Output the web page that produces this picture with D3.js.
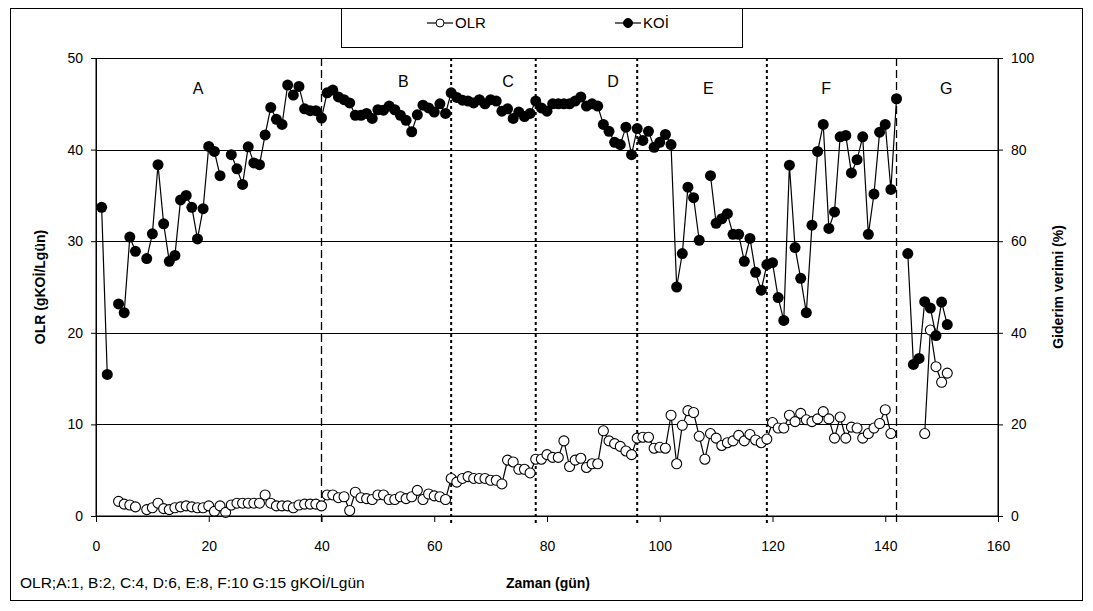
<!DOCTYPE html>
<html lang="tr">
<head>
<meta charset="UTF-8">
<title>OLR ve KOİ giderimi</title>
<style>
    body { margin: 0; background: #fff; }
    svg { display: block; font-family: Arial, "Liberation Sans", sans-serif; }
    .grid line { stroke: #000; stroke-width: 1; }
    .axis path, .axis line { stroke: #000; }
    .axis text { font-size: 14px; fill: #000; }
</style>
</head>
<body>
<div id="chart"></div>
<script src="https://d3js.org/d3.v7.min.js"></script>
<script>
// OLR (gKOİ/Lgün), one value per day; null = no measurement
const olrDays = d3.range(4, 152);
const olr = [
    1.6, 1.3, 1.2, 1.0, null, 0.7, 0.9, 1.4, 0.8, 0.7, 0.9, 1.0, 1.1, 1.0, 0.9, 0.9, 1.1,   // 4-20
    0.5, 1.1, 0.4, 1.2, 1.4, 1.4, 1.4, 1.4, 1.4, 2.3,                                       // 21-30
    1.4, 1.1, 1.1, 1.1, 0.9, 1.2, 1.3, 1.3, 1.3, 1.1,                                       // 31-40
    2.3, 2.3, 2.0, 2.1, 0.6, 2.6, 2.0, 1.9, 1.8, 2.3,                                       // 41-50
    2.3, 1.8, 1.8, 2.1, 1.9, 2.1, 2.8, 1.8, 2.4, 2.2,                                       // 51-60
    2.1, 1.8, 4.1, 3.7, 4.1, 4.3, 4.1, 4.1, 4.1, 3.9,                                       // 61-70
    3.9, 3.5, 6.1, 5.9, 5.1, 5.1, 4.7, 6.2, 6.2, 6.7,                                       // 71-80
    6.4, 6.4, 8.2, 5.4, 6.1, 6.3, 5.3, 5.7, 5.7, 9.3,                                       // 81-90
    8.2, 7.9, 7.6, 7.1, 6.7, 8.5, 8.6, 8.6, 7.4, 7.5,                                       // 91-100
    7.4, 11.0, 5.7, 9.9, 11.5, 11.3, 8.7, 6.2, 9.0, 8.5,                                    // 101-110
    7.7, 8.0, 8.2, 8.8, 8.2, 8.9, 8.3, 8.0, 8.4, 10.2,                                      // 111-120
    9.6, 9.6, 11.0, 10.3, 11.2, 10.5, 10.3, 10.6, 11.4, 10.6,                               // 121-130
    8.5, 10.8, 8.5, 9.7, 9.6, 8.5, 9.0, 9.6, 10.1, 11.6,                                    // 131-140
    9.0, null, null, null, null, null, 9.0, 20.3, 16.3, 14.6,                               // 141-150
    15.6                                                                                    // 151
];

// KOİ giderim verimi (%), one value per day
const koiDays = d3.range(1, 152);
const koi = [
    67.4, 30.9, null, 46.3, 44.4, 60.9, 57.8, null, 56.2, 61.6,                             // 1-10
    76.7, 63.8, 55.6, 56.9, 69.0, 70.0, 67.4, 60.5, 67.1, 80.7,                             // 11-20
    79.6, 74.3, null, 78.9, 75.8, 72.4, 80.6, 77.1, 76.7, 83.2,                             // 21-30
    89.2, 86.6, 85.5, 94.1, 91.9, 93.8, 88.9, 88.5, 88.5, 86.9,                             // 31-40
    92.4, 93.0, 91.5, 90.9, 90.2, 87.5, 87.5, 87.9, 86.8, 88.7,                             // 41-50
    88.6, 89.5, 88.7, 87.5, 86.4, 83.9, 87.6, 89.7, 89.1, 88.2,                             // 51-60
    90.0, 87.9, 92.4, 91.4, 90.8, 90.6, 90.2, 90.9, 90.0, 90.9,                             // 61-70
    90.6, 88.4, 88.9, 86.8, 88.2, 87.2, 87.9, 90.6, 89.1, 88.4,                             // 71-80
    90.0, 90.0, 90.0, 90.0, 90.6, 91.5, 89.5, 90.0, 89.5, 85.5,                             // 81-90
    84.0, 81.6, 81.1, 84.9, 78.9, 84.6, 82.0, 84.0, 80.5, 81.6,                             // 91-100
    83.3, 81.1, 50.0, 57.3, 71.8, 69.5, 60.2, null, 74.3, 63.9,                             // 101-110
    64.9, 66.0, 61.5, 61.5, 55.6, 60.6, 53.2, 49.3, 54.9, 55.3,                             // 111-120
    47.7, 42.7, 76.6, 58.6, 51.9, 44.4, 63.5, 79.6, 85.5, 62.8,                             // 121-130
    66.4, 82.8, 83.1, 74.9, 77.8, 82.8, 61.5, 70.3, 83.8, 85.5,                             // 131-140
    71.3, 91.1, null, 57.3, 33.1, 34.4, 46.8, 45.4, 39.4, 46.7,                             // 141-150
    41.8                                                                                    // 151
];

// period boundaries (days) and labels
const dashedDays = [40, 142];
const dottedDays = [63, 78, 96, 119];
const periods = ["A", "B", "C", "D", "E", "F", "G"];
const periodX = [18.1, 54.5, 73.1, 91.7, 108.6, 129.5, 150.8];
const periodY = [46.1, 46.8, 46.8, 46.8, 46.1, 46.1, 46.1];

const xTicks = d3.range(0, 161, 20);
const leftTicks = d3.range(0, 51, 10);
const rightTicks = d3.range(0, 101, 20);

const width = 1093, height = 611;
const margin = { left: 96, right: 95, top: 58, bottom: 95 };
const innerW = width - margin.left - margin.right;
const innerH = height - margin.top - margin.bottom;

const svg = d3.select("#chart").append("svg")
    .attr("width", width)
    .attr("height", height);

// outer frame
svg.append("rect")
    .attr("x", 10.5).attr("y", 8.5)
    .attr("width", 1072).attr("height", 592)
    .attr("fill", "#fff").attr("stroke", "#000");

const g = svg.append("g").attr("transform", `translate(${margin.left},${margin.top})`);

const x = d3.scaleLinear().domain([0, 160]).range([0, innerW]);
const yL = d3.scaleLinear().domain([0, 50]).range([innerH, 0]);
const yR = d3.scaleLinear().domain([0, 100]).range([innerH, 0]);

// horizontal grid
g.append("g").attr("class", "grid")
    .selectAll("line")
    .data(leftTicks.filter(d => d > 0))
    .join("line")
    .attr("x1", 0).attr("x2", innerW)
    .attr("y1", d => Math.round(yL(d)) + 0.5).attr("y2", d => Math.round(yL(d)) + 0.5);

// axes
g.append("g").attr("class", "axis")
    .attr("transform", `translate(0,${innerH})`)
    .call(d3.axisBottom(x).tickValues(xTicks).tickSize(6).tickPadding(19).tickSizeOuter(0));
g.append("g").attr("class", "axis")
    .call(d3.axisLeft(yL).tickValues(leftTicks).tickSize(5).tickPadding(8).tickSizeOuter(0));
g.append("g").attr("class", "axis")
    .attr("transform", `translate(${innerW},0)`)
    .call(d3.axisRight(yR).tickValues(rightTicks).tickSize(5).tickPadding(8).tickSizeOuter(0));

// period separators
g.selectAll(".dash")
    .data(dashedDays)
    .join("line")
    .attr("x1", d => x(d)).attr("x2", d => x(d))
    .attr("y1", 0).attr("y2", innerH + 8)
    .attr("stroke", "#000").attr("stroke-width", 1.3)
    .attr("stroke-dasharray", "8,4");
g.selectAll(".dot")
    .data(dottedDays)
    .join("line")
    .attr("x1", d => x(d)).attr("x2", d => x(d))
    .attr("y1", 0).attr("y2", innerH + 8)
    .attr("stroke", "#000").attr("stroke-width", 2)
    .attr("stroke-dasharray", "3,3");

g.selectAll(".period")
    .data(periods)
    .join("text")
    .attr("x", (d, i) => x(periodX[i]))
    .attr("y", (d, i) => yL(periodY[i]))
    .attr("text-anchor", "middle")
    .attr("font-size", 16)
    .text(d => d);

// series
const olrData = olrDays.map((d, i) => ({ day: d, v: olr[i] }));
const koiData = koiDays.map((d, i) => ({ day: d, v: koi[i] }));

const lineL = d3.line().defined(d => d.v != null).x(d => x(d.day)).y(d => yL(d.v));
const lineR = d3.line().defined(d => d.v != null).x(d => x(d.day)).y(d => yR(d.v));

g.append("path").datum(olrData)
    .attr("d", lineL).attr("fill", "none").attr("stroke", "#000").attr("stroke-width", 1.2);
g.append("g").selectAll("circle")
    .data(olrData.filter(d => d.v != null))
    .join("circle")
    .attr("cx", d => x(d.day)).attr("cy", d => yL(d.v))
    .attr("r", 5).attr("fill", "#fff").attr("stroke", "#000").attr("stroke-width", 1.1);

g.append("path").datum(koiData)
    .attr("d", lineR).attr("fill", "none").attr("stroke", "#000").attr("stroke-width", 1.2);
g.append("g").selectAll("circle")
    .data(koiData.filter(d => d.v != null))
    .join("circle")
    .attr("cx", d => x(d.day)).attr("cy", d => yR(d.v))
    .attr("r", 5.5).attr("fill", "#000");

// plot frame on top
g.append("rect")
    .attr("x", 0).attr("y", 0.5).attr("width", innerW).attr("height", innerH - 0.5)
    .attr("fill", "none").attr("stroke", "#000");

// axis titles
svg.append("text")
    .attr("transform", `translate(45,${margin.top + innerH / 2}) rotate(-90)`)
    .attr("text-anchor", "middle").attr("font-size", 14).attr("font-weight", "bold")
    .text("OLR (gKOİ/Lgün)");
svg.append("text")
    .attr("transform", `translate(1063,${margin.top + innerH / 2}) rotate(-90)`)
    .attr("text-anchor", "middle").attr("font-size", 14).attr("font-weight", "bold")
    .text("Giderim verimi (%)");
svg.append("text")
    .attr("x", 548).attr("y", 588)
    .attr("text-anchor", "middle").attr("font-size", 14).attr("font-weight", "bold")
    .text("Zaman (gün)");
svg.append("text")
    .attr("x", 20).attr("y", 588)
    .attr("font-size", 15.5)
    .text("OLR;A:1, B:2, C:4, D:6, E:8, F:10 G:15 gKOİ/Lgün");

// legend
const legend = svg.append("g");
legend.append("rect")
    .attr("x", 341.5).attr("y", 8.5).attr("width", 401).attr("height", 39)
    .attr("fill", "#fff").attr("stroke", "#000");
const legItems = [
    { name: "OLR", x: 440, fill: "#fff", r: 4 },
    { name: "KOİ", x: 628, fill: "#000", r: 4.5 }
];
legItems.forEach(it => {
    legend.append("line")
        .attr("x1", it.x - 13).attr("x2", it.x + 13).attr("y1", 23).attr("y2", 23)
        .attr("stroke", "#000").attr("stroke-width", 1.2);
    legend.append("circle")
        .attr("cx", it.x).attr("cy", 23).attr("r", it.r)
        .attr("fill", it.fill).attr("stroke", "#000");
    legend.append("text")
        .attr("x", it.x + 15).attr("y", 28)
        .attr("font-size", 15)
        .text(it.name);
});
</script>
</body>
</html>
